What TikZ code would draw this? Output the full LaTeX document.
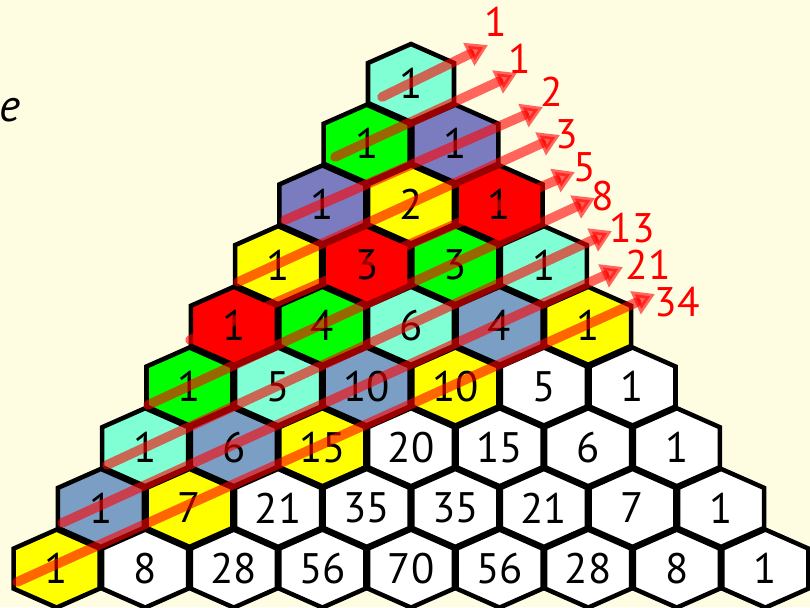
\documentclass[tikz,border=0pt]{standalone}
\usepackage{fontspec}
\setmainfont{PT Sans}
\usepackage{xcolor}
\usepackage{tikz}
\usetikzlibrary{arrows.meta}
\definecolor{pbg}{HTML}{FFFDE1}
\definecolor{paqua}{HTML}{80FFD4}
\definecolor{pgreen}{HTML}{00FF00}
\definecolor{pslate}{HTML}{7B7BC0}
\definecolor{pyellow}{HTML}{FFFF00}
\definecolor{pred}{HTML}{FF0000}
\definecolor{psteel}{HTML}{7B9EC4}
%% one colour per shallow diagonal (row + column)
\colorlet{diag0}{paqua}
\colorlet{diag1}{pgreen}
\colorlet{diag2}{pslate}
\colorlet{diag3}{pyellow}
\colorlet{diag4}{pred}
\colorlet{diag5}{pgreen}
\colorlet{diag6}{paqua}
\colorlet{diag7}{psteel}
\colorlet{diag8}{pyellow}
\tikzset{
  hexcell/.style={draw=black, line width=3.4pt, line join=miter},
  hexnum/.style={font=\fontsize{32}{34}\selectfont, text=black, inner sep=0pt},
  fibarrow/.style={-{Triangle[length=16pt, width=18pt]}, pred, opacity=0.6,
                   line width=7.2pt, line cap=round},
  fiblabel/.style={font=\fontsize{31}{33}\selectfont, text=pred, inner sep=0pt},
}

\begin{document}
\begin{tikzpicture}[x=0.75pt, y=-0.75pt]

  %% page background (810 x 607 px)
  \fill[pbg] (0,0) rectangle (810,607);
  \useasboundingbox (0,0) rectangle (810,607);

  %% left-over heading letter
  \node[font=\fontsize{34}{36}\selectfont\itshape, inner sep=0pt] (head) at (10,110) {e};

  %% Pascal triangle, rows 0..8, cells h-row-col
  \foreach \n/\vals in {0/{1}, 1/{1,1}, 2/{1,2,1}, 3/{1,3,3,1}, 4/{1,4,6,4,1},
                        5/{1,5,10,10,5,1}, 6/{1,6,15,20,15,6,1},
                        7/{1,7,21,35,35,21,7,1}, 8/{1,8,28,56,70,56,28,8,1}} {
    \foreach \v [count=\k from 0] in \vals {
      \pgfmathtruncatemacro\d{\n+\k}
      \ifnum\d>8 \def\hc{white}\else\edef\hc{diag\d}\fi
      \pgfmathsetmacro\cx{411+(2*\k-\n)*44.3}
      \pgfmathsetmacro\cy{83+60.7*\n}
      \draw[hexcell, fill=\hc] (\cx,\cy) ++(0,-39) -- ++(43,19) -- ++(0,40)
        -- ++(-43,19) -- ++(-43,-19) -- ++(0,-40) -- cycle;
      \node[hexnum] (h-\n-\k) at (\cx,\cy) {\v};
    }
  }

  %% Fibonacci sums along the shallow diagonals
  \foreach \d/\sx/\sy/\tx/\ty/\lx/\ly/\f in {
      0/382/97/488/45/496/22/1,
      1/335/157/517/73/520/59/1,
      2/285/220/543/107/552/92/2,
      3/238/282/560/135/567/134/3,
      4/190/340/575/172/585/167/5,
      5/148/405/595/198/603/196/8,
      6/107/465/612/231/632/228/13,
      7/62/523/623/267/648/265/21,
      8/17/582/655/294/677/302/34} {
    \coordinate (s\d) at (\sx,\sy);
    \coordinate (t\d) at (\tx,\ty);
    \draw[fibarrow] (s\d) -- (t\d);
    \node[fiblabel] (f\d) at (\lx,\ly) {\f};
  }

\end{tikzpicture}
\end{document}
